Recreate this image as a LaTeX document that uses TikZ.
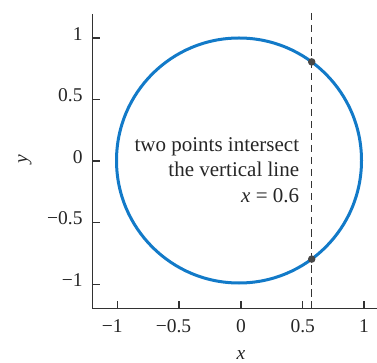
\documentclass[tikz,border=0pt]{standalone}
\usepackage{fontspec}
\setmainfont{Liberation Serif}
\definecolor{circblue}{RGB}{18,122,200}
\definecolor{axisgray}{RGB}{50,50,50}
\begin{document}
\begin{tikzpicture}[x=1pt,y=1pt,
  axis/.style={draw=axisgray, line width=1.4pt},
  tick/.style={draw=axisgray, line width=1.2pt},
  ticklab/.style={inner sep=0pt, font=\fontsize{19.5}{22}\selectfont, text=black!85},
  note/.style={inner sep=0pt, anchor=base east, font=\fontsize{21}{24}\selectfont, text=black!85},
  dot/.style={circle, fill=axisgray!90, inner sep=0pt, minimum size=7.5pt},
  vline/.style={draw=black!80, line width=1.1pt, dash pattern=on 7.5pt off 4.5pt}]
\useasboundingbox (0,0) rectangle (377,-363);
% axes
\coordinate (ytop) at (92.7,-14);
\coordinate (orig) at (92.7,-308.3);
\coordinate (xend) at (377,-308.3);
\draw[axis] (ytop) -- (orig) -- (xend);
% y ticks
\foreach \yy/\lab [count=\i] in {38/1, 99.6/0.5, 161/0, 222.7/\makebox[0pt][r]{−}0.5, 284.3/\makebox[0pt][r]{−}1} {
  \coordinate (yt\i) at (92.7,-\yy);
  \draw[tick] (yt\i) -- ++(7.5,0);
  \node[ticklab, anchor=mid east] (yl\i) at (82.7,-\yy) {\lab};
}
% x ticks
\foreach \xx/\lab [count=\i] in {117.7/\makebox[0pt][r]{−}1, 179/\makebox[0pt][r]{−}0.5, 241/0, 302.7/0.5, 364/1} {
  \coordinate (xt\i) at (\xx,-308.3);
  \draw[tick] (xt\i) -- ++(0,7.5);
  \node[ticklab, anchor=base] (xl\i) at (\xx,-332.7) {\lab};
}
% axis labels
\node[ticklab, rotate=90] (ylab) at (25,-159) {\itshape y};
\node[ticklab, anchor=base] (xlab) at (241,-359) {\itshape x};
% circle
\coordinate (c) at (239,-160.5);
\draw[circblue, line width=3pt] (c) circle[radius=122.5];
% vertical dashed line
\coordinate (vtop) at (311.7,-13);
\coordinate (vbot) at (311.7,-308.3);
\draw[vline] (vtop) -- (vbot);
% intersection points
\node[dot] (p1) at (311.7,-61.9) {};
\node[dot] (p2) at (311.7,-259.1) {};
% annotation
\node[note] (t1) at (299.3,-151.7) {two points intersect};
\node[note] (t2) at (299.3,-176.7) {the vertical line};
\node[note] (t3) at (299.3,-202.7) {{\itshape x} = 0.6};
\end{tikzpicture}
\end{document}
